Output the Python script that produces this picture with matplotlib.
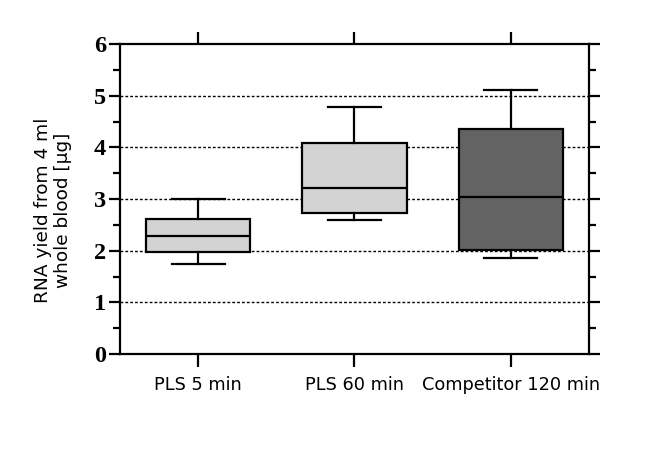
import matplotlib
matplotlib.use("Agg")
import matplotlib.pyplot as plt
from matplotlib.ticker import MultipleLocator

categories = ["PLS 5 min", "PLS 60 min", "Competitor 120 min"]
whisker_low = [1.75, 2.60, 1.86]
q1 = [1.97, 2.73, 2.02]
median = [2.29, 3.22, 3.03]
q3 = [2.61, 4.08, 4.35]
whisker_high = [3.00, 4.79, 5.11]
box_colors = ["#d3d3d3", "#d3d3d3", "#636363"]
y_ticks = [0, 1, 2, 3, 4, 5, 6]

fig = plt.figure(figsize=(6.6, 4.53), dpi=100)
ax = fig.add_axes([0.1818, 0.2185, 0.7106, 0.6843])

stats = []
for i, c in enumerate(categories):
    stats.append(dict(label=c, whislo=whisker_low[i], q1=q1[i], med=median[i],
                      q3=q3[i], whishi=whisker_high[i], fliers=[]))

lw = 1.6
bp = ax.bxp(stats, positions=range(len(categories)), widths=0.667, patch_artist=True,
            showfliers=False,
            boxprops=dict(linewidth=lw, edgecolor="black"),
            medianprops=dict(color="black", linewidth=lw),
            whiskerprops=dict(color="black", linewidth=lw),
            capprops=dict(color="black", linewidth=lw),
            capwidths=0.34, zorder=3)
for patch, col in zip(bp["boxes"], box_colors):
    patch.set_facecolor(col)

for y in y_ticks[1:-1]:
    ax.axhline(y, color="black", linestyle=(0, (2, 1.5)), linewidth=1.0, zorder=1)

ax.set_xlim(-0.5, 2.5)
ax.set_ylim(0, 6)
ax.set_yticks(y_ticks)
ax.yaxis.set_minor_locator(MultipleLocator(0.5))
ax.set_yticklabels([str(t) for t in y_ticks], fontfamily="Liberation Serif",
                   fontweight="bold", fontsize=17.5)
ax.set_xticks(range(len(categories)))
ax.set_xticklabels(categories, fontfamily="DejaVu Sans", fontsize=12.8)

for s in ax.spines.values():
    s.set_linewidth(lw)

ax.tick_params(axis="y", which="major", direction="out", length=8, width=lw,
               left=True, right=True, pad=2)
ax.tick_params(axis="y", which="minor", direction="out", length=5, width=lw,
               left=True, right=True)
ax.tick_params(axis="x", which="major", direction="out", length=9, width=lw,
               top=True, bottom=True, pad=7)

ax.set_ylabel("RNA yield from 4 ml\nwhole blood [\u00b5g]", fontfamily="DejaVu Sans",
              fontsize=13.3, linespacing=1.15)
ax.yaxis.set_label_coords(-0.103, 0.465)

fig.savefig("out.png", dpi=100)
